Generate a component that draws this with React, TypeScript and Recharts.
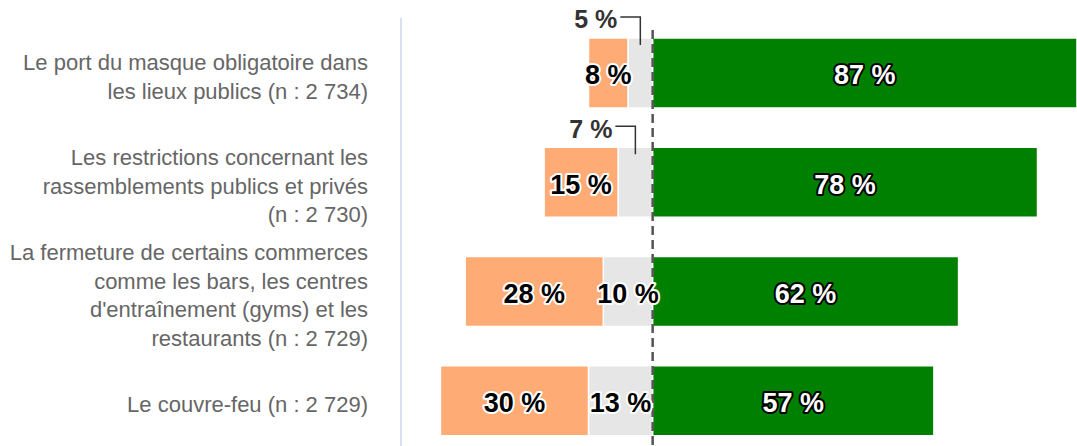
import React from 'react';
import { BarChart, Bar, XAxis, YAxis, ReferenceLine, LabelList } from 'recharts';

// catégories (retours à la ligne comme dans l'original)
const categories = [
  'Le port du masque obligatoire dans\nles lieux publics (n : 2 734)',
  'Les restrictions concernant les\nrassemblements publics et privés\n(n : 2 730)',
  'La fermeture de certains commerces\ncomme les bars, les centres\nd\'entraînement (gyms) et les\nrestaurants (n : 2 729)',
  'Le couvre-feu (n : 2 729)',
];
const favorable = [87, 78, 62, 57];
const neutre = [5, 7, 10, 13];
const defavorable = [8, 15, 28, 30];

const data = categories.map((name, i) => ({
  name,
  favorable: favorable[i],
  neutre: -neutre[i],
  defavorable: -defavorable[i],
}));

const FONT = '"Liberation Sans", Arial, sans-serif';

function CategoryTick(props: any) {
  const { x, y, payload } = props;
  const lines: string[] = String(payload.value).split('\n');
  const lh = 28.5;
  const start = y + 4 - ((lines.length - 1) * lh) / 2;
  return (
    <text x={x - 25} y={start} textAnchor="end" fill="#666" fontSize={22} fontFamily={FONT}>
      {lines.map((l, i) => (
        <tspan key={i} x={x - 25} y={start + i * lh} dy="0.35em">
          {l}
        </tspan>
      ))}
    </text>
  );
}

function makeLabel(fill: string, outline: string, callout: boolean) {
  return (props: any) => {
    const { x, y, width, height, value } = props;
    const v = Math.abs(Number(value));
    const left = Math.min(x, x + width);
    const cx = left + Math.abs(width) / 2;
    const cy = y + height / 2;
    if (callout && v <= 7) {
      const top = y;
      return (
        <g>
          <polyline
            points={`${cx - 20},${top - 21} ${cx},${top - 21} ${cx},${top + 7}`}
            fill="none"
            stroke="#333"
            strokeWidth={1.5}
          />
          <text x={cx - 23} y={top - 21} dy="0.45em" textAnchor="end" fill="#333" fontSize={25} fontWeight="bold" fontFamily={FONT}>
            {`${v} %`}
          </text>
        </g>
      );
    }
    return (
      <text
        x={cx}
        y={cy}
        dy="0.42em"
        textAnchor="middle"
        fill={fill}
        stroke={outline}
        strokeWidth={4}
        strokeLinejoin="round"
        paintOrder="stroke"
        fontSize={27}
        fontWeight="bold"
        fontFamily={FONT}
      >
        {`${v} %`}
      </text>
    );
  };
}

const DashedZero = (p: any) => (
  <line x1={p.x1} y1={Math.min(p.y1, p.y2) + 12} x2={p.x2} y2={Math.max(p.y1, p.y2)} stroke="#555" strokeWidth={2.5} strokeDasharray="9 5" />
);

export default function App() {
  return (
    <div style={{ width: 1077, height: 446 }}>
      <style>{'body{margin:0}'}</style>
      <BarChart
        width={1077}
        height={446}
        data={data}
        layout="vertical"
        stackOffset="sign"
        margin={{ top: 18, right: 0, bottom: -9, left: 0 }}
      >
        <XAxis type="number" domain={[-51, 86]} hide allowDataOverflow />
        <YAxis
          type="category"
          dataKey="name"
          width={401}
          axisLine={{ stroke: '#ccd6eb', strokeWidth: 1.5 }}
          tickLine={false}
          tick={<CategoryTick />}
          interval={0}
        />
        <Bar dataKey="neutre" stackId="a" fill="#e6e6e6" stroke="#fff" strokeWidth={1.5} barSize={70} isAnimationActive={false}>
          <LabelList dataKey="neutre" content={makeLabel('#000', '#fff', true)} />
        </Bar>
        <Bar dataKey="defavorable" stackId="a" fill="#ffab76" stroke="#fff" strokeWidth={1.5} barSize={70} isAnimationActive={false}>
          <LabelList dataKey="defavorable" content={makeLabel('#000', '#fff', false)} />
        </Bar>
        <Bar dataKey="favorable" stackId="a" fill="#008000" stroke="#fff" strokeWidth={1.5} barSize={70} isAnimationActive={false}>
          <LabelList dataKey="favorable" content={makeLabel('#fff', '#000', false)} />
        </Bar>
        <ReferenceLine x={0} shape={DashedZero} />
      </BarChart>
    </div>
  );
}
